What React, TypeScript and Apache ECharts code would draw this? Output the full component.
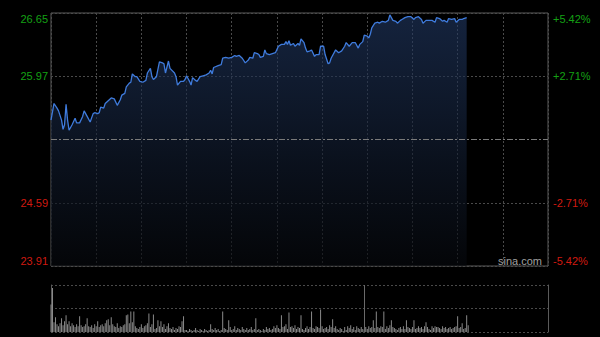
import React, { useEffect, useRef } from "react";
import * as echarts from "echarts";

const prevClose = 25.28;
const priceMin = 23.91;
const priceMax = 26.65;
const priceLabels = ["23.91", "24.59", "", "25.97", "26.65"];
const pctLabels = ["-5.42%", "-2.71%", "", "+2.71%", "+5.42%"];

const minutes = [
  0, 2, 4, 5, 7, 8, 9, 10, 11, 12, 14, 16, 17, 19, 21, 22, 24, 26, 28, 29, 31, 32, 33, 35, 36, 38, 40, 42, 44, 46,
  47, 49, 50, 52, 53, 54, 56, 57, 59, 61, 63, 64, 66, 67, 68, 70, 72, 74, 75, 76, 78, 79, 82, 83, 84, 86, 88, 89, 90, 92,
  93, 94, 96, 97, 99, 101, 103, 105, 106, 107, 108, 111, 113, 114, 116, 118, 120, 122, 123, 125, 127, 129, 131, 132, 134, 135, 137, 138, 139, 141,
  142, 143, 145, 147, 149, 151, 153, 155, 156, 157, 158, 159, 161, 162, 164, 165, 166, 168, 169, 170, 172, 173, 175, 176, 178, 179, 181, 182, 184, 185,
  186, 189, 191, 193, 195, 196, 198, 200, 201, 202, 204, 205, 207, 208, 210, 211, 212, 213, 215, 217, 218, 220, 222, 224, 225, 226, 227, 229, 230, 232,
  233, 235, 237, 239, 241, 242, 244, 246, 247, 249, 251, 253, 255, 256, 258, 260, 261, 263, 264, 266, 268, 269, 271, 273, 274, 276,
];
const prices = [
  25.49, 25.67, 25.62, 25.59, 25.49, 25.39, 25.44, 25.66, 25.49, 25.38, 25.44, 25.51, 25.46, 25.46, 25.53, 25.59, 25.53, 25.47, 25.56, 25.57, 25.56, 25.57, 25.63, 25.62, 25.67, 25.70, 25.73, 25.72, 25.65, 25.71,
  25.76, 25.78, 25.85, 25.89, 25.90, 25.99, 25.96, 25.96, 25.91, 25.90, 25.92, 26.00, 26.05, 25.96, 25.93, 25.96, 26.12, 26.11, 26.10, 26.00, 26.13, 26.05, 26.00, 25.96, 25.87, 25.91, 25.91, 25.93, 25.97, 25.91,
  25.87, 25.95, 25.92, 25.91, 25.96, 25.97, 25.98, 26.00, 26.03, 25.99, 26.06, 26.08, 26.09, 26.16, 26.17, 26.16, 26.17, 26.19, 26.18, 26.19, 26.16, 26.11, 26.14, 26.17, 26.16, 26.22, 26.21, 26.20, 26.17, 26.18,
  26.25, 26.21, 26.20, 26.21, 26.22, 26.29, 26.31, 26.31, 26.34, 26.31, 26.35, 26.30, 26.32, 26.29, 26.32, 26.30, 26.37, 26.33, 26.27, 26.23, 26.24, 26.25, 26.18, 26.20, 26.20, 26.29, 26.29, 26.20, 26.10, 26.11,
  26.16, 26.25, 26.22, 26.24, 26.29, 26.33, 26.29, 26.33, 26.33, 26.33, 26.27, 26.31, 26.34, 26.41, 26.40, 26.38, 26.42, 26.49, 26.54, 26.55, 26.54, 26.56, 26.55, 26.57, 26.63, 26.60, 26.57, 26.56, 26.54, 26.57,
  26.58, 26.60, 26.61, 26.61, 26.58, 26.60, 26.61, 26.58, 26.54, 26.57, 26.57, 26.57, 26.55, 26.60, 26.59, 26.56, 26.57, 26.55, 26.59, 26.58, 26.59, 26.55, 26.58, 26.58, 26.59, 26.60,
];

const volumes = [
  28, 45, 10, 15, 8, 6, 9, 14, 7, 11,
  17, 8, 11, 6, 9, 7, 5, 8, 6, 16,
  7, 5, 6, 8, 14, 6, 5, 7, 4, 8,
  6, 11, 5, 7, 8, 6, 9, 12, 13, 7,
  15, 8, 6, 5, 9, 4, 6, 5, 7, 8,
  17, 18, 9, 21, 10, 21, 6, 4, 3, 5,
  8, 4, 6, 7, 9, 19, 5, 8, 18, 3,
  4, 12, 6, 11, 5, 8, 3, 6, 9, 4,
  3, 5, 2, 4, 3, 6, 5, 11, 16, 2,
  2, 1, 3, 2, 1, 2, 4, 2, 1, 3,
  2, 1, 3, 2, 1, 2, 8, 3, 2, 4,
  2, 3, 1, 2, 21, 4, 3, 2, 12, 5,
  2, 3, 6, 2, 4, 3, 2, 5, 3, 2,
  4, 2, 3, 5, 2, 3, 14, 2, 3, 2,
  1, 3, 2, 5, 3, 4, 2, 3, 6, 4,
  7, 4, 3, 17, 5, 6, 8, 3, 20, 5,
  6, 4, 7, 3, 5, 4, 17, 3, 2, 4,
  6, 3, 5, 21, 4, 3, 6, 5, 4, 23,
  6, 3, 4, 5, 3, 7, 5, 13, 4, 6,
  3, 2, 4, 3, 1, 5, 2, 6, 4, 7,
  3, 5, 2, 6, 4, 3, 5, 3, 2, 5,
  3, 6, 4, 5, 12, 4, 21, 5, 4, 6,
  5, 21, 3, 6, 4, 7, 12, 5, 4, 3,
  2, 4, 5, 3, 6, 3, 12, 5, 4, 3,
  5, 12, 3, 4, 6, 4, 5, 3, 6, 10,
  5, 3, 2, 6, 4, 6, 5, 5, 4, 3,
  6, 4, 5, 3, 4, 5, 3, 4, 5, 6,
  16, 4, 5, 9, 3, 4, 17, 7,
];
const volumeMarkerMinute = 208;

const GREEN = "#14a014";
const RED = "#d01a10";
const GRID_LINE = "#4a4a4a";

export default function App() {
  const ref = useRef<HTMLDivElement>(null);
  useEffect(() => {
    if (!ref.current) return;
    const chart = echarts.init(ref.current, null, { renderer: "svg" });
    const priceData = minutes.map((m, i) => [m, prices[i]]);
    const volData = volumes.map((v, i) => [i, v]);
    const labelColor = (v: any) => (Number(v) > 0 ? GREEN : Number(v) < 0 ? RED : "#888");
    chart.setOption({
      animation: false,
      backgroundColor: "#000",
      textStyle: { fontFamily: "Liberation Sans, Arial, sans-serif" },
      grid: [
        { left: 51, top: 13, width: 497, height: 253, show: true, borderColor: "#5a5a5a", borderWidth: 1, backgroundColor: "transparent" },
        { left: 51, top: 285, width: 497, height: 47, show: false },
      ],
      xAxis: [
        {
          type: "value", gridIndex: 0, min: 0, max: 330, interval: 30,
          axisLine: { show: false }, axisTick: { show: false }, axisLabel: { show: false },
          splitLine: { show: true, lineStyle: { color: GRID_LINE, type: [2, 2], width: 1 } },
        },
        {
          type: "value", gridIndex: 1, min: 0, max: 330, interval: 30,
          axisLine: { show: false }, axisTick: { show: false }, axisLabel: { show: false },
          splitLine: { show: false },
        },
      ],
      yAxis: [
        {
          type: "value", gridIndex: 0, min: priceMin, max: priceMax,
          axisLine: { show: false }, axisTick: { show: false }, axisLabel: { show: false }, splitLine: { show: false },
        },
        {
          type: "value", gridIndex: 0, position: "left", min: -2, max: 2, interval: 1,
          axisLine: { show: false }, axisTick: { show: false },
          axisLabel: {
            show: true, margin: 3, fontSize: 11, color: labelColor,
            formatter: (v: number) => priceLabels[Math.round(v) + 2],
            verticalAlignMinLabel: "bottom", verticalAlignMaxLabel: "top",
          },
          splitLine: { show: true, lineStyle: { color: GRID_LINE, type: [2, 2], width: 1 } },
        },
        {
          type: "value", gridIndex: 0, position: "right", min: -2, max: 2, interval: 1,
          axisLine: { show: false }, axisTick: { show: false },
          axisLabel: {
            show: true, margin: 5, fontSize: 11, color: labelColor,
            formatter: (v: number) => pctLabels[Math.round(v) + 2],
            verticalAlignMinLabel: "bottom", verticalAlignMaxLabel: "top",
          },
          splitLine: { show: false },
        },
        {
          type: "value", gridIndex: 1, position: "left", min: 0, max: 48, interval: 24,
          axisLine: { show: true, lineStyle: { color: "#5a5a5a" } }, axisTick: { show: false }, axisLabel: { show: false },
          splitLine: { show: true, lineStyle: { color: GRID_LINE, type: [2, 2], width: 1 } },
        },
        {
          type: "value", gridIndex: 1, position: "right", min: 0, max: 48, interval: 24,
          axisLine: { show: true, lineStyle: { color: "#5a5a5a" } }, axisTick: { show: false }, axisLabel: { show: false },
          splitLine: { show: false },
        },
      ],
      series: [
        {
          type: "line", xAxisIndex: 0, yAxisIndex: 0, data: priceData, showSymbol: false, smooth: false,
          lineStyle: { color: "#3f7bdc", width: 1.3 },
          areaStyle: {
            origin: "start",
            color: new echarts.graphic.LinearGradient(0, 0, 0, 1, [
              { offset: 0, color: "rgba(34,58,102,0.85)" },
              { offset: 0.6, color: "rgba(16,26,44,0.9)" },
              { offset: 1, color: "rgba(6,8,12,0.95)" },
            ]),
          },
          markLine: {
            silent: true, symbol: "none", label: { show: false },
            lineStyle: { color: "#7a7a7a", type: [6, 2, 2, 2], width: 1 },
            data: [{ yAxis: prevClose }],
          },
          z: 3,
        },
        {
          type: "bar", xAxisIndex: 1, yAxisIndex: 3, data: volData, barWidth: 1,
          itemStyle: { color: "#8a8a8a" },
          markLine: {
            silent: true, symbol: "none", label: { show: false },
            lineStyle: { color: "#6a6a6a", type: "solid", width: 1 },
            data: [{ xAxis: volumeMarkerMinute }],
          },
        },
      ],
      graphic: [
        {
          type: "text", left: 498, top: 255,
          style: { text: "sina.com", fill: "#a0a0a0", fontSize: 11, fontFamily: "Liberation Sans, Arial, sans-serif" },
          z: 10,
        },
      ],
    });
    return () => chart.dispose();
  }, []);
  return (
    <div style={{ position: "fixed", left: 0, top: 0, width: 600, height: 337, background: "#000" }}>
      <div ref={ref} style={{ width: 600, height: 337 }} />
    </div>
  );
}
